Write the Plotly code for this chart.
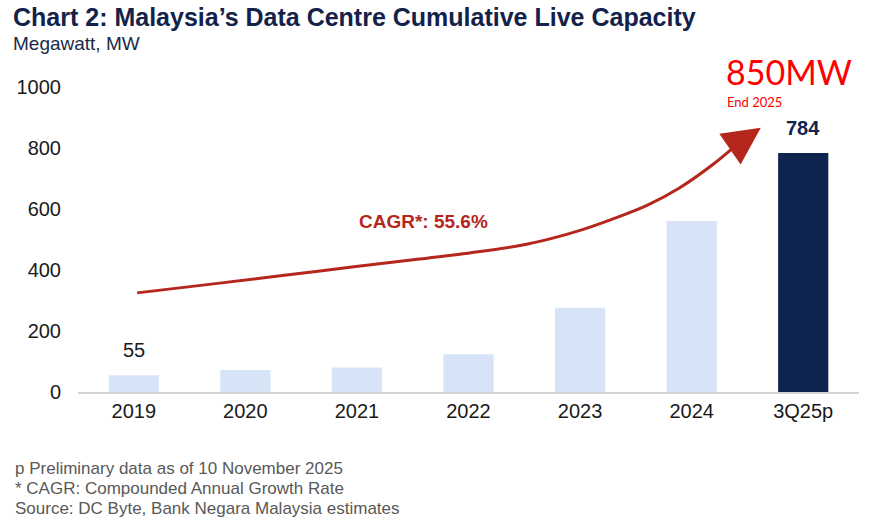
import plotly.graph_objects as go

# ---- data ----
categories = ["2019", "2020", "2021", "2022", "2023", "2024", "3Q25p"]
capacity_mw = [55, 72, 80, 124, 276, 561, 784]
labelled_idx = [0, 6]
y_ticks = [0, 200, 400, 600, 800, 1000]

# decorative CAGR curve (x = category index, y = MW)
cagr_curve_x = [0.03, 0.77, 1.67, 2.56, 3.01, 3.46, 3.73, 4.00, 4.29, 4.60, 4.89, 5.19, 5.41]
cagr_curve_y = [325, 357, 397, 436, 456, 480, 502, 530, 567, 612, 669, 746, 813]
arrow_tip = (5.62, 866)
cagr_text = "CAGR*: 55.6%"

title = "Chart 2: Malaysia\u2019s Data Centre Cumulative Live Capacity"
subtitle = "Megawatt, MW"
footnotes = [
    "p Preliminary data as of 10 November 2025",
    "* CAGR: Compounded Annual Growth Rate",
    "Source: DC Byte, Bank Negara Malaysia estimates",
]

LIGHT = "#d7e4f8"
NAVY = "#0f2550"
RED = "#b5271d"
FONT = "Liberation Sans, Arial, sans-serif"

x_idx = list(range(len(categories)))
colors = [LIGHT] * (len(categories) - 1) + [NAVY]

fig = go.Figure()
fig.add_trace(go.Bar(x=x_idx, y=capacity_mw, width=0.45, marker=dict(color=colors, line=dict(width=0)),
                     hoverinfo="skip"))
fig.add_trace(go.Scatter(x=cagr_curve_x, y=cagr_curve_y, mode="lines",
                         line=dict(color=RED, width=3, shape="spline", smoothing=1.0), hoverinfo="skip"))

# geometry (body margin removed via post_script, figure fills the window)
W, H = 871, 531
L, R, T, B = 78, 12, 87, 139
pw, ph = W - L - R, H - T - B
def px(x): return (x - L) / pw
def py(y): return (H - B - y) / ph

ann = []
# arrow head
ann.append(dict(x=arrow_tip[0], y=arrow_tip[1], xref="x", yref="y",
                ax=cagr_curve_x[-1], ay=cagr_curve_y[-1], axref="x", ayref="y",
                showarrow=True, arrowhead=2, arrowsize=2.5, arrowwidth=3, arrowcolor=RED,
                standoff=0, text=""))
# value labels
for i in labelled_idx:
    last = i == len(categories) - 1
    ann.append(dict(x=i, y=capacity_mw[i], xref="x", yref="y", text=str(capacity_mw[i]),
                    showarrow=False, yanchor="bottom", yshift=12,
                    font=dict(family=FONT, size=20, color=NAVY if last else "#1a1a1a",
                              weight="bold" if last else "normal")))
# CAGR text
ann.append(dict(x=px(423), y=py(221), xref="paper", yref="paper", text=cagr_text, showarrow=False,
                font=dict(family=FONT, size=19, color=RED, weight="bold")))
# title, subtitle
ann.append(dict(x=px(11), y=py(17), xref="paper", yref="paper", text=title, showarrow=False,
                xanchor="left", yanchor="middle",
                font=dict(family=FONT, size=25, color="#13224a", weight="bold")))
ann.append(dict(x=px(11), y=py(44), xref="paper", yref="paper", text=subtitle, showarrow=False,
                xanchor="left", yanchor="middle",
                font=dict(family=FONT, size=19, color="#1b2a4a")))
# red 850MW notes
ann.append(dict(x=px(724), y=py(71), xref="paper", yref="paper", text="850MW", showarrow=False,
                xanchor="left", yanchor="middle", font=dict(family="Lato, sans-serif", size=34, color="#ff0000")))
ann.append(dict(x=px(725), y=py(102), xref="paper", yref="paper", text="End 2025", showarrow=False,
                xanchor="left", yanchor="middle", font=dict(family="Lato, sans-serif", size=13, color="#ff0000")))
# footnotes
for k, line in enumerate(footnotes):
    ann.append(dict(x=px(13), y=py(468 + 20 * k), xref="paper", yref="paper", text=line, showarrow=False,
                    xanchor="left", yanchor="middle", font=dict(family=FONT, size=17, color="#595959")))

fig.update_layout(
    width=W, height=H, margin=dict(l=L, r=R, t=T, b=B),
    paper_bgcolor="white", plot_bgcolor="white", showlegend=False,
    annotations=ann,
    xaxis=dict(range=[-0.5, 6.5], tickvals=x_idx, ticktext=categories, showgrid=False, zeroline=False,
               showline=True, linecolor="#d4d4d4", linewidth=2, ticks="",
               tickfont=dict(family=FONT, size=20, color="#1a1a1a"), ticklabelstandoff=0),
    yaxis=dict(range=[0, 1000], tickvals=y_ticks, showgrid=False, zeroline=False, showline=False,
               ticks="", tickfont=dict(family=FONT, size=20, color="#1a1a1a"), ticklabelstandoff=16),
)

fig.write_html("out.html", config={"displayModeBar": False},
               post_script="document.body.style.margin='0';document.body.style.padding='0';"
                           "document.body.style.overflow='hidden';")
